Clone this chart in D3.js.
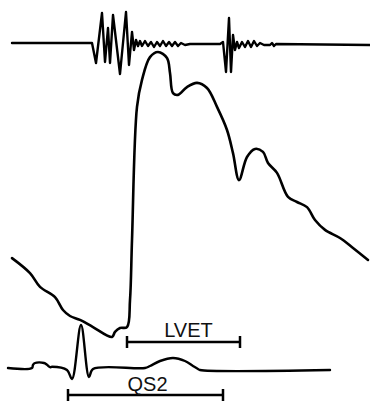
<!DOCTYPE html>
<html>
<head>
<meta charset="utf-8">
<script src="https://cdn.jsdelivr.net/npm/d3@7"></script>
<style>
  html, body { margin: 0; padding: 0; background: #fff; }
  svg { display: block; }
  .trace { fill: none; stroke: #000; stroke-linejoin: round; stroke-linecap: round; }
  .interval line { stroke: #000; stroke-width: 2.5; }
  .interval text { font-family: "Liberation Sans", Arial, sans-serif; font-size: 20px; fill: #111; }
</style>
</head>
<body>
<div id="chart"></div>
<script>
// time in ms, amplitude in arbitrary units per trace
const phonoTime = [24, 184, 192, 204, 210, 216, 220, 226, 240, 252, 258, 264, 268, 272, 276, 280, 284, 290, 296, 302,
                   308, 314, 320, 326, 332, 338, 344, 350, 356, 362, 370, 380, 440, 446, 452, 458, 462, 466, 470, 474,
                   478, 484, 490, 496, 502, 508, 514, 520, 528, 540, 544, 548, 552, 740];
const phonoAmp  = [0, 0, -20, 30, -19, 15, -20, 28, -31, 31, -22, 11, -7, 3, -3, 2, -3, 2, -3, 1,
                   -4, 1, -3, 2, -3, 1, -3, 1, -3, 0, -2, -1, -1, 1, -29, 25, -29, 8, -7, 1,
                   -5, 1, -4, 2, -4, 2, -3, 0, -2, -2, 0, -3, -1, -2];

const pulseTime = [24, 60, 80, 110, 126, 140, 160, 186, 224, 230, 240, 254, 260, 264, 274, 284, 300, 316, 334, 340,
                   346, 356, 374, 394, 414, 434, 454, 466, 478, 494, 510, 526, 536, 554, 576, 594, 614, 630, 650, 680,
                   706, 736];
const pulseAmp  = [27.3, 22.3, 17.7, 14.3, 10, 8, 6.7, 4.3, 1, 2.7, 4, 4.3, 13.3, 33.3, 77.7, 86.7, 94.3, 96, 94, 89,
                   82.3, 81.7, 84.3, 85.7, 84, 77.7, 70, 62.3, 53.3, 61, 63.7, 62.7, 59, 55.7, 47.7, 46, 44.3, 40, 36.7, 34,
                   30.7, 26.7];

const ecgTime = [16, 64, 66, 70, 88, 94, 100, 104, 134, 144, 162, 178, 186, 290, 300, 320, 346, 370, 386, 396, 400, 660];
const ecgAmp  = [0, 0, 0.08, 0.125, 0.125, 0.08, 0.02, 0.03, -0.05, -0.275, 1.075, -0.225, -0.025, 0, 0.05, 0.175, 0.25, 0.175, 0.05, -0.025, -0.05, -0.05];

const intervalNames = ["LVET", "QS2"];
const intervalStart = [254, 136];
const intervalEnd   = [480, 446];

const width = 370, height = 401;

const svg = d3.select("#chart")
              .append("svg")
              .attr("width", width)
              .attr("height", height);

const x = d3.scaleLinear().domain([0, 740]).range([0, width]);
const yPhono = d3.scaleLinear().domain([-30, 30]).range([73, 13]);
const yPulse = d3.scaleLinear().domain([0, 100]).range([340, 40]);
const yEcg = d3.scaleLinear().domain([0, 1]).range([368, 328]);

function drawTrace(times, amps, yScale, curve, sw) {
  const line = d3.line()
                 .x(d => x(d[0]))
                 .y(d => yScale(d[1]))
                 .curve(curve);
  svg.append("path")
       .attr("class", "trace")
       .attr("stroke-width", sw)
       .attr("d", line(d3.zip(times, amps)));
}

drawTrace(phonoTime, phonoAmp, yPhono, d3.curveLinear, 2.4);
drawTrace(pulseTime, pulseAmp, yPulse, d3.curveCatmullRom.alpha(0.5), 2.6);
drawTrace(ecgTime, ecgAmp, yEcg, d3.curveCatmullRom.alpha(0.5), 2.4);

// interval bars: bar y, tick half-height, label baseline, label shift
const barY = [342, 395];
const labelY = [337, 391];
const labelDx = [5, 2];
const tick = 6;

intervalNames.forEach((name, i) => {
  const g = svg.append("g").attr("class", "interval");
  const x0 = x(intervalStart[i]), x1 = x(intervalEnd[i]);
  g.append("line").attr("x1", x0).attr("x2", x1).attr("y1", barY[i]).attr("y2", barY[i]);
  g.append("line").attr("x1", x0).attr("x2", x0).attr("y1", barY[i] - tick).attr("y2", barY[i] + tick);
  g.append("line").attr("x1", x1).attr("x2", x1).attr("y1", barY[i] - tick).attr("y2", barY[i] + tick);
  g.append("text")
     .attr("x", (x0 + x1) / 2 + labelDx[i])
     .attr("y", labelY[i])
     .attr("text-anchor", "middle")
     .text(name);
});
</script>
</body>
</html>
